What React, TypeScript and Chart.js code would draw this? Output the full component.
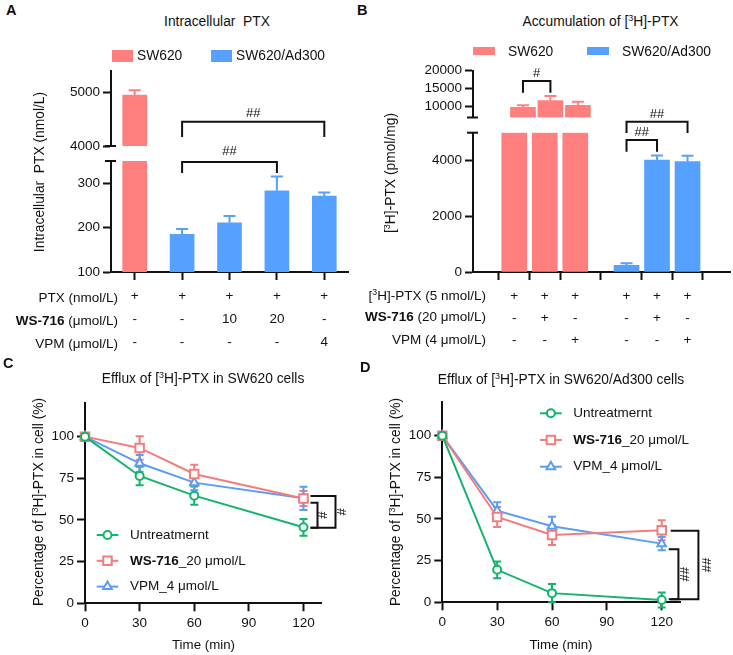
import React, { useEffect, useRef } from 'react';
import { Chart, registerables } from 'chart.js';

Chart.register(...registerables);

const FONT = "'Liberation Sans', Arial, Helvetica, sans-serif";
const INK = '#111';
const RED = '#FF7F7F';
const BLUE = '#56A0FF';
const LINE_GREEN = '#14B36B';
const LINE_RED = '#F47C7C';
const LINE_BLUE = '#5A9CF6';

// ---------- Panel A data ----------
const groupNames = ['SW620', 'SW620/Ad300'];
const aGroups = ['SW620', 'SW620/Ad300', 'SW620/Ad300', 'SW620/Ad300', 'SW620/Ad300'];
const aValues = [4950, 185, 211, 283, 271];
const aErrors = [90, 12, 15, 32, 8];
const aPtxRow = ['+', '+', '+', '+', '+'];
const aWsRow = ['-', '-', '10', '20', '-'];
const aVpmRow = ['-', '-', '-', '-', '4'];
const aLowerTicks = [100, 200, 300];
const aUpperTicks = [4000, 5000];
const aLowerRange = [100, 350];
const aUpperRange = [4000, 5400];

// ---------- Panel B data ----------
const bGroups = ['SW620', 'SW620', 'SW620', 'SW620/Ad300', 'SW620/Ad300', 'SW620/Ad300'];
const bPositions = [0, 1, 2, 3.68, 4.68, 5.68];
const bValues = [9830, 11670, 10390, 240, 4020, 3960];
const bErrors = [580, 1300, 1000, 72, 160, 215];
const bPtxRow = ['+', '+', '+', '+', '+', '+'];
const bWsRow = ['-', '+', '-', '-', '+', '-'];
const bVpmRow = ['-', '-', '+', '-', '-', '+'];
const bLowerTicks = [0, 2000, 4000];
const bUpperTicks = [10000, 15000, 20000];
const bLowerRange = [0, 5000];
const bUpperRange = [7000, 20000];

// ---------- Panels C & D data ----------
const times = [0, 30, 60, 120];
const timeTicks = [0, 30, 60, 90, 120];
const pctTicks = [0, 25, 50, 75, 100];
const seriesNames = ['Untreatmernt', 'WS-716_20 μmol/L', 'VPM_4 μmol/L'];
const cUntreated = [100, 76.4, 64.6, 45.6];
const cUntreatedErr = [0, 5.5, 5.5, 5];
const cWs716 = [100, 93.2, 77.6, 62.9];
const cWs716Err = [0, 7, 5.5, 4.5];
const cVpm = [100, 84, 72.4, 63];
const cVpmErr = [0, 5, 4.5, 7];
const dUntreated = [100, 19.5, 5.5, 1.4];
const dUntreatedErr = [0, 5, 5.5, 4.5];
const dWs716 = [100, 51.2, 40.4, 43.2];
const dWs716Err = [0, 6, 6, 6];
const dVpm = [100, 55, 45.6, 35.2];
const dVpmErr = [0, 5, 5.8, 4];

const GROUP_COLORS: Record<string, string> = { 'SW620': RED, 'SW620/Ad300': BLUE };

// ---------- plugins ----------
function drawErr(chart: any, opts: any) {
  const ctx = chart.ctx;
  const ys = chart.scales.y;
  chart.data.datasets.forEach((ds: any, di: number) => {
    const meta = chart.getDatasetMeta(di);
    const lows = ds.errLow, highs = ds.errHigh;
    if (!lows) return;
    ctx.save();
    ctx.strokeStyle = ds.errColor || ds.borderColor || ds.backgroundColor;
    ctx.lineWidth = 2;
    meta.data.forEach((el: any, i: number) => {
      const lo = lows[i], hi = highs[i];
      if (lo == null || hi == null || hi === lo) return;
      const x = el.x;
      const y1 = ys.getPixelForValue(lo), y2 = ys.getPixelForValue(hi);
      ctx.beginPath();
      ctx.moveTo(x, y1); ctx.lineTo(x, y2);
      ctx.moveTo(x - opts.cap, y2); ctx.lineTo(x + opts.cap, y2);
      if (opts.bothCaps) { ctx.moveTo(x - opts.cap, y1); ctx.lineTo(x + opts.cap, y1); }
      ctx.stroke();
    });
    ctx.restore();
  });
}
const errorBarPlugin = {
  id: 'errorBars',
  beforeDatasetsDraw(chart: any, _a: any, opts: any) { if (opts && opts.phase === 'before') drawErr(chart, opts); },
  afterDatasetsDraw(chart: any, _a: any, opts: any) { if (opts && opts.phase === 'after') drawErr(chart, opts); },
};

const bracketPlugin = {
  id: 'brackets',
  afterDraw(chart: any, _a: any, opts: any) {
    const items = (opts && opts.items) || [];
    if (!items.length) return;
    const ctx = chart.ctx, xs = chart.scales.x, ys = chart.scales.y;
    ctx.save();
    ctx.strokeStyle = INK; ctx.fillStyle = INK; ctx.lineWidth = 2;
    ctx.font = `13px ${FONT}`; ctx.textAlign = 'center'; ctx.textBaseline = 'middle';
    items.forEach((b: any) => {
      if (b.kind === 'top') {
        const x1 = xs.getPixelForValue(b.x1), x2 = xs.getPixelForValue(b.x2);
        const yt = ys.getPixelForValue(b.top), yl = ys.getPixelForValue(b.leg);
        ctx.beginPath();
        ctx.moveTo(x1, yl); ctx.lineTo(x1, yt); ctx.lineTo(x2, yt); ctx.lineTo(x2, yl);
        ctx.stroke();
        ctx.fillText(b.label, (x1 + x2) / 2, yt - b.gap);
      } else {
        const x0 = xs.getPixelForValue(b.x);
        const xa = x0 + b.dx0, xb = x0 + b.dx1;
        const yt = ys.getPixelForValue(b.top), yb = ys.getPixelForValue(b.bot);
        ctx.beginPath();
        ctx.moveTo(xa, yt); ctx.lineTo(xb, yt); ctx.lineTo(xb, yb); ctx.lineTo(xa, yb);
        ctx.stroke();
        ctx.save();
        ctx.translate(xb + b.gap, (yt + yb) / 2);
        ctx.rotate(-Math.PI / 2);
        ctx.fillText(b.label, 0, 0);
        ctx.restore();
      }
    });
    ctx.restore();
  },
};

const breakPlugin = {
  id: 'breakCaps',
  afterDraw(chart: any, _a: any, opts: any) {
    if (!opts || (!opts.top && !opts.bottom)) return;
    const ctx = chart.ctx;
    const { left, top, bottom } = chart.chartArea;
    ctx.save();
    ctx.strokeStyle = INK; ctx.lineWidth = 2;
    ctx.beginPath();
    if (opts.top) { ctx.moveTo(left - 6, top); ctx.lineTo(left + 5, top); }
    if (opts.bottom) { ctx.moveTo(left - 6, bottom); ctx.lineTo(left + 5, bottom); }
    ctx.stroke();
    ctx.restore();
  },
};

function drawMarker(ctx: any, style: string, x: number, y: number, r: number) {
  ctx.beginPath();
  if (style === 'rect') {
    const s = Math.SQRT1_2 * r;
    ctx.rect(x - s, y - s, 2 * s, 2 * s);
  } else if (style === 'triangle') {
    let rad = 0;
    ctx.moveTo(x + Math.sin(rad) * r, y - Math.cos(rad) * r);
    rad += (2 * Math.PI) / 3;
    ctx.lineTo(x + Math.sin(rad) * r, y - Math.cos(rad) * r);
    rad += (2 * Math.PI) / 3;
    ctx.lineTo(x + Math.sin(rad) * r, y - Math.cos(rad) * r);
    ctx.closePath();
  } else {
    ctx.arc(x, y, r, 0, Math.PI * 2);
  }
  ctx.fill();
  ctx.stroke();
}

const lineLegendPlugin = {
  id: 'lineLegend',
  afterDraw(chart: any, _a: any, opts: any) {
    if (!opts || opts.x == null) return;
    const ctx = chart.ctx;
    chart.data.datasets.forEach((ds: any, i: number) => {
      const y = opts.y + i * opts.dy;
      ctx.save();
      ctx.strokeStyle = ds.borderColor; ctx.lineWidth = 2;
      ctx.beginPath(); ctx.moveTo(opts.x, y); ctx.lineTo(opts.x + opts.len, y); ctx.stroke();
      ctx.fillStyle = '#fff';
      drawMarker(ctx, ds.pointStyle, opts.x + opts.len / 2, y, ds.pointRadius);
      let tx = opts.x + opts.len + opts.gap;
      const label: string = ds.label;
      const parts = label.startsWith('WS-716')
        ? [{ t: 'WS-716', b: true }, { t: label.slice(6), b: false }]
        : [{ t: label, b: false }];
      ctx.fillStyle = INK; ctx.textBaseline = 'middle'; ctx.textAlign = 'left';
      parts.forEach((p) => {
        ctx.font = `${p.b ? 'bold ' : ''}13.5px ${FONT}`;
        ctx.fillText(p.t, tx, y);
        tx += ctx.measureText(p.t).width;
      });
      ctx.restore();
    });
  },
};

Chart.register(errorBarPlugin, bracketPlugin, breakPlugin, lineLegendPlugin);

// ---------- scale helpers ----------
const gridCfg = { display: true, drawOnChartArea: false, drawTicks: true, tickLength: 8, tickWidth: 2, tickColor: INK };
function yScale(range: number[], ticks: number[], width: number) {
  return {
    type: 'linear', min: range[0], max: range[1],
    afterBuildTicks: (s: any) => { s.ticks = ticks.map((v) => ({ value: v })); },
    afterFit: (s: any) => { s.width = width; },
    border: { display: true, color: INK, width: 2 },
    grid: gridCfg,
    ticks: { color: INK, font: { family: FONT, size: 13.5 }, padding: 3, callback: (v: any) => String(v) },
  };
}

function segmentDatasets(values: number[], errors: number[], groups: string[], range: number[], positions?: number[]) {
  return groupNames.map((g) => {
    const idx = values.map((_, i) => i).filter((i) => groups[i] === g && values[i] > range[0]);
    const base: any = { label: g, backgroundColor: GROUP_COLORS[g], errColor: GROUP_COLORS[g], borderWidth: 0, grouped: false };
    if (positions) {
      return {
        ...base,
        data: idx.map((i) => ({ x: positions[i], y: [range[0], Math.min(values[i], range[1])] })),
        errLow: idx.map((i) => (values[i] <= range[1] ? values[i] : null)),
        errHigh: idx.map((i) => (values[i] <= range[1] ? values[i] + errors[i] : null)),
      };
    }
    return {
      ...base,
      data: values.map((v, i) => (idx.includes(i) ? [range[0], Math.min(v, range[1])] : null)),
      errLow: values.map((v, i) => (idx.includes(i) && v <= range[1] ? v : null)),
      errHigh: values.map((v, i) => (idx.includes(i) && v <= range[1] ? v + errors[i] : null)),
    };
  });
}

const baseOpts = {
  responsive: false,
  maintainAspectRatio: false,
  animation: false,
  events: [],
};

// ---------- chart configs ----------
const makeAUpper = () => ({
  type: 'bar',
  data: { labels: aPtxRow.map((_, i) => String(i)), datasets: segmentDatasets(aValues, aErrors, aGroups, aUpperRange) },
  options: {
    ...baseOpts,
    barThickness: 24,
    layout: { padding: { top: 16, bottom: 14, left: 0, right: 12 } },
    scales: {
      x: { type: 'category', display: false, offset: true },
      y: yScale(aUpperRange, aUpperTicks, 111),
    },
    plugins: {
      legend: { display: false }, tooltip: { enabled: false },
      errorBars: { phase: 'after', cap: 6 },
      breakCaps: { bottom: true },
      brackets: { items: [{ kind: 'top', x1: 1, x2: 4, top: 4453, leg: 4170, label: '##', gap: 8 }] },
    },
  },
});

const makeALower = () => ({
  type: 'bar',
  data: { labels: aPtxRow.map((p, i) => [p, aWsRow[i], aVpmRow[i]]), datasets: segmentDatasets(aValues, aErrors, aGroups, aLowerRange) },
  options: {
    ...baseOpts,
    barThickness: 24,
    layout: { padding: { top: 21, bottom: 0, left: 0, right: 12 } },
    scales: {
      x: {
        type: 'category', offset: true,
        afterFit: (s: any) => { s.height = 88; },
        border: { display: true, color: INK, width: 2 },
        grid: { ...gridCfg, offset: false },
        ticks: { color: INK, font: { family: FONT, size: 13.5, lineHeight: '23px' }, padding: 5, maxRotation: 0, autoSkip: false },
      },
      y: yScale(aLowerRange, aLowerTicks, 111),
    },
    plugins: {
      legend: { display: false }, tooltip: { enabled: false },
      errorBars: { phase: 'after', cap: 6 },
      breakCaps: { top: true },
      brackets: { items: [{ kind: 'top', x1: 1, x2: 3, top: 348, leg: 323, label: '##', gap: 10 }] },
    },
  },
});

const bX = { min: -0.65, max: 6.37 };

const makeBUpper = () => ({
  type: 'bar',
  data: { datasets: segmentDatasets(bValues, bErrors, bGroups, bUpperRange, bPositions) },
  options: {
    ...baseOpts,
    barThickness: 25,
    layout: { padding: { top: 15.7, bottom: 17.5, left: 0, right: 3 } },
    scales: {
      x: { type: 'linear', display: false, ...bX },
      y: yScale(bUpperRange, bUpperTicks, 113),
    },
    plugins: {
      legend: { display: false }, tooltip: { enabled: false },
      errorBars: { phase: 'after', cap: 6 },
      breakCaps: { bottom: true },
      brackets: { items: [{ kind: 'top', x1: bPositions[0], x2: bPositions[1], top: 17140, leg: 13890, label: '#', gap: 8 }] },
    },
  },
});

const makeBLower = () => ({
  type: 'bar',
  data: { datasets: segmentDatasets(bValues, bErrors, bGroups, bLowerRange, bPositions) },
  options: {
    ...baseOpts,
    barThickness: 25,
    layout: { padding: { top: 32.7, bottom: 0, left: 0, right: 3 } },
    scales: {
      x: {
        type: 'linear', ...bX,
        afterBuildTicks: (s: any) => { s.ticks = bPositions.map((v) => ({ value: v })); },
        afterFit: (s: any) => { s.height = 88; },
        border: { display: true, color: INK, width: 2 },
        grid: gridCfg,
        ticks: {
          color: INK, font: { family: FONT, size: 13.5, lineHeight: '22px' }, padding: 5, maxRotation: 0, autoSkip: false,
          callback: (_v: any, i: number) => [bPtxRow[i], bWsRow[i], bVpmRow[i]],
        },
      },
      y: yScale(bLowerRange, bLowerTicks, 113),
    },
    plugins: {
      legend: { display: false }, tooltip: { enabled: false },
      errorBars: { phase: 'after', cap: 6 },
      breakCaps: { top: true },
      brackets: {
        items: [
          { kind: 'top', x1: bPositions[3], x2: bPositions[4], top: 4738, leg: 4318, label: '##', gap: 7.5 },
          { kind: 'top', x1: bPositions[3], x2: bPositions[5], top: 5395, leg: 4989, label: '##', gap: 7.5 },
        ],
      },
    },
  },
});

function lineDataset(label: string, vals: number[], errs: number[], color: string, style: string, r: number) {
  return {
    label,
    data: times.map((t, i) => ({ x: t, y: vals[i] })),
    errLow: vals.map((v, i) => v - errs[i]),
    errHigh: vals.map((v, i) => v + errs[i]),
    borderColor: color,
    backgroundColor: color,
    borderWidth: 2,
    pointStyle: style,
    pointRadius: r,
    pointBorderWidth: 2,
    pointBorderColor: color,
    pointBackgroundColor: '#fff',
    tension: 0,
    clip: false,
  };
}

function makeLine(sets: any[], yW: number, xH: number, padTop: number, padRight: number, legend: any, brackets: any[]) {
  return () => ({
    type: 'line',
    data: { datasets: sets },
    options: {
      ...baseOpts,
      layout: { padding: { top: padTop, bottom: 0, left: 0, right: padRight } },
      scales: {
        x: {
          type: 'linear', min: 0, max: 130,
          afterBuildTicks: (s: any) => { s.ticks = timeTicks.map((v) => ({ value: v })); },
          afterFit: (s: any) => { s.height = xH; },
          border: { display: true, color: INK, width: 2 },
          grid: gridCfg,
          ticks: { color: INK, font: { family: FONT, size: 13.5 }, padding: 4, maxRotation: 0, callback: (v: any) => String(v) },
        },
        y: yScale([0, 120], pctTicks, yW),
      },
      plugins: {
        legend: { display: false }, tooltip: { enabled: false },
        errorBars: { phase: 'before', cap: 4, bothCaps: true },
        lineLegend: legend,
        brackets: { items: brackets },
      },
    },
  });
}

const makeC = makeLine(
  [
    lineDataset(seriesNames[0], cUntreated, cUntreatedErr, LINE_GREEN, 'circle', 4),
    lineDataset(seriesNames[1], cWs716, cWs716Err, LINE_RED, 'rect', 6),
    lineDataset(seriesNames[2], cVpm, cVpmErr, LINE_BLUE, 'triangle', 5),
  ],
  85, 51.7, 33.3, 38.3,
  { x: 96.7, y: 165, dy: 25.8, len: 21.6, gap: 11.7 },
  [
    { kind: 'side', x: 120, dx0: 7, dx1: 14, top: 60.4, bot: 45.4, label: '#', gap: 6 },
    { kind: 'side', x: 120, dx0: 7, dx1: 32, top: 64.4, bot: 45.4, label: '#', gap: 6.7 },
  ],
);

const makeD = makeLine(
  [
    lineDataset(seriesNames[0], dUntreated, dUntreatedErr, LINE_GREEN, 'circle', 4),
    lineDataset(seriesNames[1], dWs716, dWs716Err, LINE_RED, 'rect', 6),
    lineDataset(seriesNames[2], dVpm, dVpmErr, LINE_BLUE, 'triangle', 5),
  ],
  82.3, 52.7, 32.3, 53,
  { x: 180, y: 43.3, dy: 26.7, len: 21.7, gap: 11.6 },
  [
    { kind: 'side', x: 120, dx0: 7, dx1: 16.7, top: 31.8, bot: 1.8, label: '##', gap: 7.3 },
    { kind: 'side', x: 120, dx0: 9, dx1: 36.7, top: 43, bot: 1.8, label: '##', gap: 9 },
  ],
);

// ---------- components ----------
type Box = { left: number; top: number; width: number; height: number };
function ChartCanvas({ box, make }: { box: Box; make: () => any }) {
  const ref = useRef<HTMLCanvasElement | null>(null);
  useEffect(() => {
    const chart = new Chart(ref.current as HTMLCanvasElement, make());
    return () => chart.destroy();
  }, []);
  return (
    <canvas
      ref={ref}
      width={box.width}
      height={box.height}
      style={{ position: 'absolute', left: box.left, top: box.top, width: box.width, height: box.height }}
    />
  );
}

function Label({ x, y, align = 'center', rotate = false, size = 13.8, weight = 400, children }: any) {
  const tx = align === 'center' ? '-50%' : align === 'right' ? '-100%' : '0';
  return (
    <div
      style={{
        position: 'absolute', left: x, top: y,
        transform: `translate(${tx}, -50%)${rotate ? ' rotate(-90deg)' : ''}`,
        font: `${weight} ${size}px ${FONT}`, color: INK, whiteSpace: 'pre', lineHeight: 1,
      }}
    >
      {children}
    </div>
  );
}

const Sup = ({ children }: any) => (
  <sup style={{ fontSize: '0.65em', verticalAlign: '0.55em', lineHeight: 0 }}>{children}</sup>
);

function Swatch({ x, y, w, h, color }: any) {
  return <div style={{ position: 'absolute', left: x, top: y, width: w, height: h, background: color }} />;
}

export default function App() {
  return (
    <div style={{ position: 'absolute', left: 0, top: 0, width: 733, height: 655, background: '#fff', overflow: 'hidden' }}>
      <ChartCanvas box={{ left: 0, top: 55, width: 360, height: 105 }} make={makeAUpper} />
      <ChartCanvas box={{ left: 0, top: 140, width: 360, height: 220 }} make={makeALower} />
      <ChartCanvas box={{ left: 360, top: 55, width: 373, height: 80 }} make={makeBUpper} />
      <ChartCanvas box={{ left: 360, top: 100, width: 373, height: 260 }} make={makeBLower} />
      <ChartCanvas box={{ left: 0, top: 370, width: 360, height: 285 }} make={makeC} />
      <ChartCanvas box={{ left: 360, top: 370, width: 373, height: 285 }} make={makeD} />

      {/* Panel letters */}
      <Label x={6} y={10} align="left" size={14.5} weight={700}>A</Label>
      <Label x={357} y={9.5} align="left" size={14.5} weight={700}>B</Label>
      <Label x={3} y={363} align="left" size={14.5} weight={700}>C</Label>
      <Label x={360} y={366.5} align="left" size={14.5} weight={700}>D</Label>

      {/* Titles */}
      <Label x={217} y={22}>Intracellular  PTX</Label>
      <Label x={600.5} y={21.5}>Accumulation of [<Sup>3</Sup>H]-PTX</Label>
      <Label x={203} y={379}>Efflux of [<Sup>3</Sup>H]-PTX in SW620 cells</Label>
      <Label x={561} y={380}>Efflux of [<Sup>3</Sup>H]-PTX in SW620/Ad300 cells</Label>

      {/* Y titles */}
      <Label x={40} y={172} rotate>Intracellular  PTX (nmol/L)</Label>
      <Label x={391} y={173} rotate>[<Sup>3</Sup>H]-PTX (pmol/mg)</Label>
      <Label x={39} y={502} rotate>Percentage of [<Sup>3</Sup>H]-PTX in cell (%)</Label>
      <Label x={396} y={502} rotate>Percentage of [<Sup>3</Sup>H]-PTX in cell (%)</Label>

      {/* X titles */}
      <Label x={203.5} y={645} size={13.3}>Time (min)</Label>
      <Label x={561} y={645} size={13.3}>Time (min)</Label>

      {/* Legends A & B */}
      <Swatch x={112} y={50} w={21} h={12} color={RED} />
      <Label x={137} y={56} align="left" size={13.8}>SW620</Label>
      <Swatch x={211} y={50} w={21} h={12} color={BLUE} />
      <Label x={236} y={56} align="left" size={13.8}>SW620/Ad300</Label>
      <Swatch x={473} y={47} w={22} h={8} color={RED} />
      <Label x={508} y={52} align="left" size={13.8}>SW620</Label>
      <Swatch x={587} y={47} w={22} h={8} color={BLUE} />
      <Label x={622} y={52} align="left" size={13.8}>SW620/Ad300</Label>

      {/* Table row labels */}
      <Label x={118} y={298} align="right" size={13.5}>PTX (nmol/L)</Label>
      <Label x={118} y={321} align="right" size={13.5}><b>WS-716</b> (μmol/L)</Label>
      <Label x={118} y={344} align="right" size={13.5}>VPM (μmol/L)</Label>
      <Label x={486} y={296} align="right" size={13.5}>[<Sup>3</Sup>H]-PTX (5 nmol/L)</Label>
      <Label x={486} y={317} align="right" size={13.5}><b>WS-716</b> (20 μmol/L)</Label>
      <Label x={486} y={340} align="right" size={13.5}>VPM (4 μmol/L)</Label>
    </div>
  );
}
